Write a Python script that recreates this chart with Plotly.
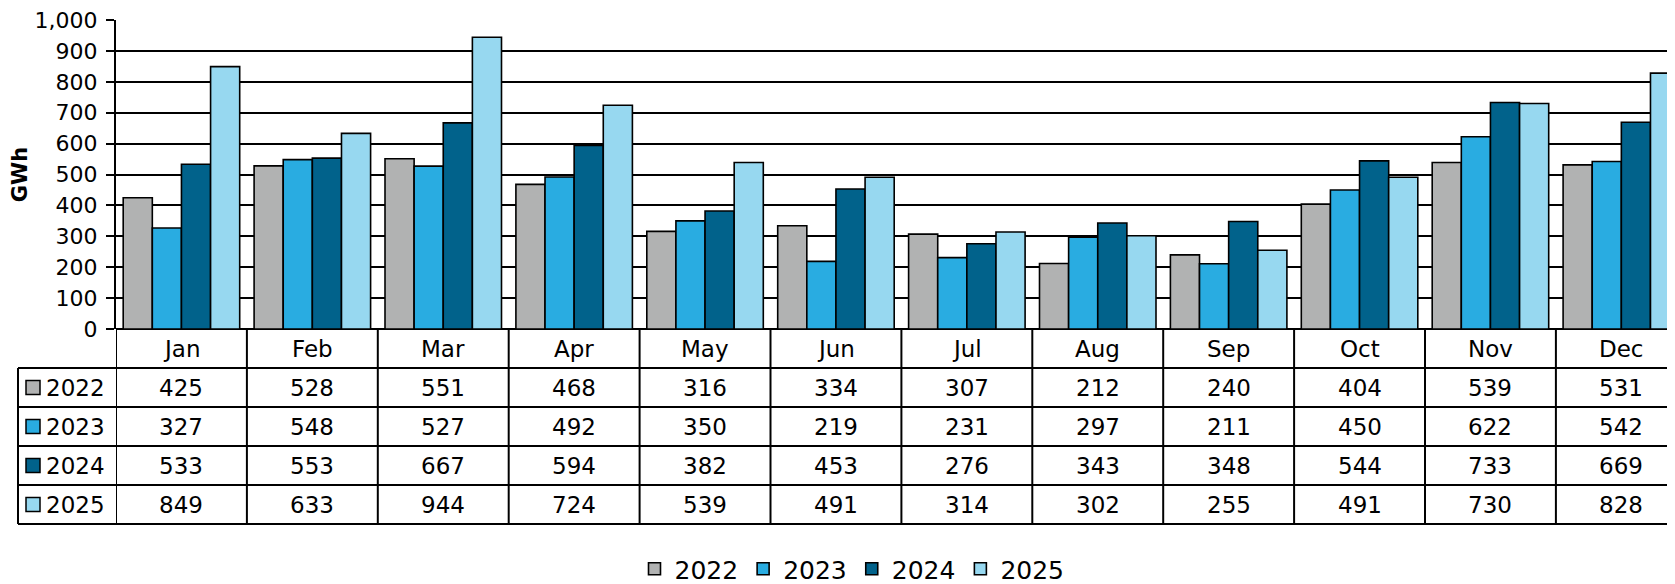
import plotly.graph_objects as go

months = ["Jan", "Feb", "Mar", "Apr", "May", "Jun", "Jul", "Aug", "Sep", "Oct", "Nov", "Dec"]
years = ["2022", "2023", "2024", "2025"]
v2022 = [425, 528, 551, 468, 316, 334, 307, 212, 240, 404, 539, 531]
v2023 = [327, 548, 527, 492, 350, 219, 231, 297, 211, 450, 622, 542]
v2024 = [533, 553, 667, 594, 382, 453, 276, 343, 348, 544, 733, 669]
v2025 = [849, 633, 944, 724, 539, 491, 314, 302, 255, 491, 730, 828]
series = [v2022, v2023, v2024, v2025]
colors = ["#B1B2B2", "#29ACE1", "#01628B", "#97D8F0"]
y_ticks = list(range(0, 1001, 100))

OFF = 8  # page body margin
W, H = 1675 - OFF, 584 - OFF
L, T = 116 - OFF, 20 - OFF
B_PX = 329 - OFF  # figure y pixel of zero line
PLOT_H = B_PX - T
PLOT_W = W - L
CAT_W = 130.9
FONT = "DejaVu Sans"
FS = 23

def py(p):  # p in page pixels
    return (B_PX - (p - OFF)) / PLOT_H

def px(p):
    return ((p - OFF) - L) / PLOT_W

fig = go.Figure()
for name, vals, col in zip(years, series, colors):
    fig.add_trace(go.Bar(x=months, y=vals, name=name, marker=dict(color=col, line=dict(color="black", width=1.6))))

x_max = -0.5 + PLOT_W / CAT_W

shapes = []
annotations = []
row_tops = [368, 407, 446, 485, 524]
for r in row_tops:
    shapes.append(dict(type="line", xref="paper", yref="paper", x0=px(18), x1=1.02, y0=py(r), y1=py(r),
                       line=dict(color="black", width=2)))
shapes.append(dict(type="line", xref="paper", yref="paper", x0=px(18), x1=px(18), y0=py(368), y1=py(524),
                   line=dict(color="black", width=2)))
for i in range(len(months) + 1):
    shapes.append(dict(type="line", xref="x", yref="paper", x0=i - 0.5, x1=i - 0.5, y0=0, y1=py(524),
                       line=dict(color="black", width=2)))
for m in months:
    annotations.append(dict(x=m, xref="x", y=py(348.5), yref="paper", text=m, showarrow=False,
                            font=dict(size=FS, color="black", family=FONT), xanchor="center", yanchor="middle"))
for k, (name, vals, col) in enumerate(zip(years, series, colors)):
    cy = (row_tops[k] + row_tops[k + 1]) / 2
    shapes.append(dict(type="rect", xref="paper", yref="paper", x0=px(26), x1=px(40), y0=py(cy - 7), y1=py(cy + 7),
                       fillcolor=col, line=dict(color="black", width=1.5)))
    annotations.append(dict(x=px(44), xref="paper", y=py(cy), yref="paper", text=name, showarrow=False,
                            font=dict(size=FS, color="black", family=FONT), xanchor="left", yanchor="middle"))
    for m, v in zip(months, vals):
        annotations.append(dict(x=m, xref="x", y=py(cy), yref="paper", text=str(v), showarrow=False,
                                font=dict(size=FS, color="black", family=FONT), xanchor="center", yanchor="middle"))

fig.update_layout(
    template="none",
    width=W, height=H,
    margin=dict(l=L, r=0, t=T, b=H - B_PX, pad=0, autoexpand=False),
    paper_bgcolor="white", plot_bgcolor="white",
    barmode="group", bargap=0.11, bargroupgap=0,
    font=dict(family=FONT, size=FS, color="black"),
    xaxis=dict(range=[-0.5, x_max], showticklabels=False, ticks="", showgrid=False, showline=False, zeroline=False,
               automargin=False),
    yaxis=dict(range=[0, 1000.01], tickvals=y_ticks, tickformat=",", ticks="outside", ticklen=8, tickwidth=2,
               tickcolor="black", showgrid=True, gridcolor="black", gridwidth=2, showline=True, linecolor="black",
               linewidth=2, zeroline=True, zerolinecolor="black", zerolinewidth=2, ticklabelstandoff=4,
               automargin=False, ticklabeloverflow="allow",
               tickfont=dict(size=22, family=FONT, color="black"),
               title=dict(text="<b>GWh</b>", font=dict(size=21, family=FONT, color="black"), standoff=6)),
    legend=dict(orientation="h", x=px(852), xanchor="center", y=py(569), yanchor="middle",
                font=dict(size=25, family=FONT, color="black"), itemwidth=30, traceorder="normal"),
    shapes=shapes, annotations=annotations,
)
fig.write_html("out.html")
